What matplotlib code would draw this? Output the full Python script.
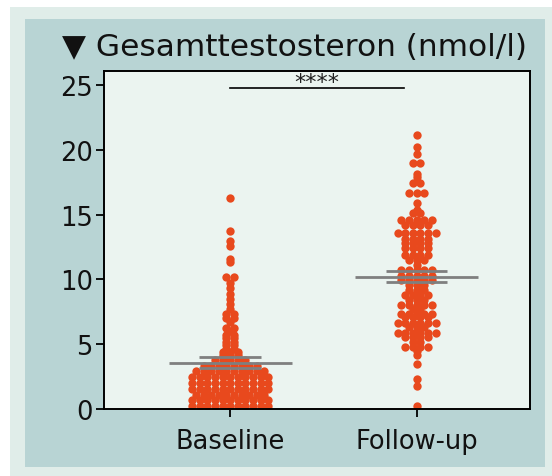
import matplotlib
matplotlib.use("Agg")
import matplotlib.pyplot as plt
import numpy as np
from matplotlib.patches import Rectangle

categories = ["Baseline", "Follow-up"]

baseline = [16.3, 13.7, 13.0, 12.6, 11.6, 11.35, 10.15, 10.15, 9.7, 9.3, 8.9, 8.5, 8.1,
            7.7, 7.3, 7.3, 7.0, 7.0, 6.7, 6.25, 6.25, 6.05, 5.7, 5.7, 5.5, 5.5, 5.15, 5.15,
            4.95, 4.95, 4.65, 4.65, 4.4, 4.4, 4.4,
            4.15, 4.15, 4.15,
            3.8, 3.8, 3.8, 3.8, 3.8,
            3.35, 3.35, 3.35, 3.35, 3.35, 3.35, 3.35, 3.35,
            2.9, 2.9, 2.9, 2.9, 2.9, 2.9, 2.9, 2.9, 2.9, 2.9,
            2.45, 2.45, 2.45, 2.45, 2.45, 2.45, 2.45, 2.45, 2.45, 2.45, 2.45,
            2.0, 2.0, 2.0, 2.0, 2.0, 2.0, 2.0, 2.0, 2.0, 2.0, 2.0,
            1.55, 1.55, 1.55, 1.55, 1.55, 1.55, 1.55, 1.55, 1.55, 1.55, 1.55,
            1.1, 1.1, 1.1, 1.1, 1.1, 1.1, 1.1, 1.1, 1.1, 1.1,
            0.7, 0.7, 0.7, 0.7, 0.7, 0.7, 0.7, 0.7, 0.7, 0.7, 0.7,
            0.25, 0.25, 0.25, 0.25, 0.25, 0.25, 0.25, 0.25, 0.25, 0.25, 0.25]

followup = [21.15, 20.25, 19.7, 19.0, 19.0, 18.1, 17.9, 17.4, 17.4, 16.65, 16.65, 16.65,
            15.9, 15.35, 15.1, 15.1, 14.6, 14.6, 14.6, 14.6, 14.6, 14.2, 14.2, 14.2, 14.2,
            13.6, 13.6, 13.6, 13.6, 13.6, 13.6, 13.15, 13.15, 13.15, 13.15,
            12.8, 12.8, 12.8, 12.8, 12.4, 12.4, 12.4, 12.4, 11.9, 11.9, 11.9, 11.9,
            11.5, 11.5, 11.5, 11.1, 10.7, 10.7, 10.7, 10.7, 10.7,
            10.3, 10.3, 10.3, 10.3, 10.3, 9.95, 9.95, 9.95, 9.95, 9.95, 9.6, 9.6, 9.6,
            9.2, 9.2, 9.2, 8.8, 8.8, 8.8, 8.8, 8.4, 8.4, 8.4, 8.0, 8.0, 8.0, 8.0, 8.0,
            7.7, 7.7, 7.35, 7.35, 7.35, 7.35, 7.35, 7.1, 7.1, 7.1, 7.1,
            6.6, 6.6, 6.6, 6.6, 6.6, 6.6, 6.3, 6.3, 6.3, 5.86, 5.86, 5.86, 5.86, 5.86, 5.86,
            5.55, 5.55, 5.55, 5.55, 5.2, 5.2, 4.82, 4.82, 4.82, 4.82, 4.46, 4.13, 3.5,
            2.3, 1.8, 0.25]

mean_vals = [3.55, 10.2]
ci_low = [3.15, 9.8]
ci_high = [4.0, 10.65]

y_ticks = [0, 5, 10, 15, 20, 25]
title_text = "\u25BC Gesamttestosteron (nmol/l)"
sig_text = "****"

W, H = 552, 477
fig = plt.figure(figsize=(W / 100, H / 100), dpi=100)
fig.patch.set_facecolor("white")
fig.patches.append(Rectangle((10 / W, 0), 1 - 10 / W, (H - 8) / H, transform=fig.transFigure,
                             facecolor="#E0EDE9", edgecolor="none", zorder=-10))
fig.patches.append(Rectangle((25 / W, (H - 468) / H), (545 - 25) / W, (468 - 20) / H,
                             transform=fig.transFigure, facecolor="#B8D4D4", edgecolor="none", zorder=-9))

ax = fig.add_axes([104 / W, (H - 410) / H, (530 - 104) / W, (410 - 72) / H])
ax.set_facecolor("#EBF4F0")
ax.set_xlim(-0.677, 1.608)
ax.set_ylim(0, 26.08)

# Prism-like row scatter: points with the same value are laid side by side
ax_w_px = ax.get_position().width * W
px_per_x = ax_w_px / (1.608 + 0.677)
step = 7.6 / px_per_x


def row_layout(vals, center):
    vals = np.asarray(vals, dtype=float)
    xs = np.empty_like(vals)
    for v in np.unique(vals):
        idx = np.where(vals == v)[0]
        n = len(idx)
        offs = (np.arange(n) - (n - 1) / 2.0) * step
        xs[idx] = center + offs
    return xs, vals


for i, vals in enumerate([baseline, followup]):
    xs, ys = row_layout(vals, i)
    ax.scatter(xs, ys, s=36, color="#E8491D", linewidths=0, zorder=2)

for i in range(2):
    ax.hlines(mean_vals[i], i - 0.33, i + 0.33, color="#7F7F7F", lw=2.0, zorder=3)
    ax.hlines([ci_low[i], ci_high[i]], i - 0.165, i + 0.165, color="#7F7F7F", lw=2.0, zorder=3)

ax.set_xticks([0, 1])
ax.set_xticklabels(categories)
ax.set_yticks(y_ticks)

fam = ["DejaVu Sans"]
for lab in ax.get_yticklabels() + ax.get_xticklabels():
    lab.set_family(fam)
    lab.set_fontsize(18.5)
    lab.set_color("#111111")
ax.tick_params(axis="both", direction="out", length=6, width=1.3, colors="black",
               labelcolor="#111111")
ax.tick_params(axis="y", pad=2)
ax.tick_params(axis="x", pad=8)
for s in ax.spines.values():
    s.set_linewidth(1.4)
    s.set_color("black")

ax.plot([0, 0.93], [24.75, 24.75], color="black", lw=1.2, zorder=3)
ax.text(0.465, 24.8, sig_text, ha="center", va="baseline", fontsize=16, family=fam, color="#222222")

fig.text(62 / W, 1 - 56 / H, title_text, ha="left", va="baseline", fontsize=22.5,
         family=fam, color="#111111")

fig.savefig("out.png", dpi=100)
